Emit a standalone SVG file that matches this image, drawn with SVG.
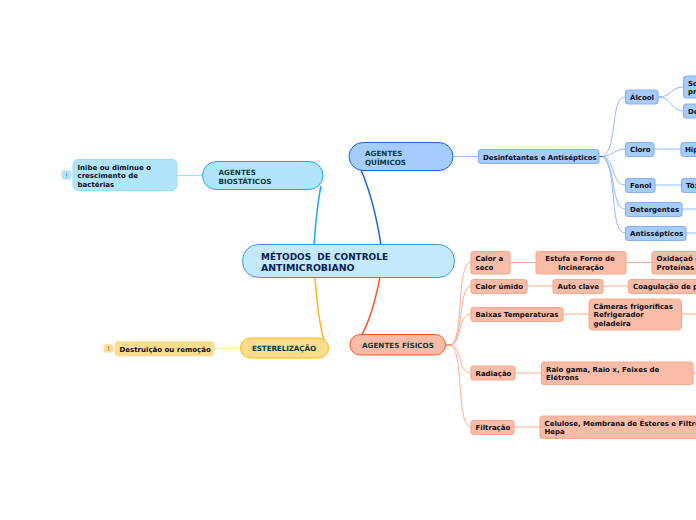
<svg xmlns="http://www.w3.org/2000/svg" width="696" height="520" viewBox="0 0 696 520">
<style>
text{font-family:"DejaVu Sans",Verdana,sans-serif;font-weight:700;font-size:7px;fill:#0c0c14}
.r{font-size:9.4px;fill:#0b2050;white-space:pre}
.m{font-size:7.2px;fill:#0a3a38}
.f{font-size:6.5px;font-weight:400;fill:#555}
.c{text-anchor:middle}
.b{fill:#a6cbfd;stroke:#85b4f5;stroke-width:1.2}
.o{fill:#fbbca7;stroke:#fba98e;stroke-width:1.2}
.cb{fill:none;stroke:#90bbf5;stroke-width:1}
.co{fill:none;stroke:#fcae95;stroke-width:1}
</style>
<g id="connectors" fill="none">
<path d="M321 186 Q317 205 314 245" stroke="#1ea7ee" stroke-width="1.500"/>
<path d="M361 170 Q374 200 381 245" stroke="#1a66dc" stroke-width="1.500"/>
<path d="M315 277 Q318 320 324.500 342" stroke="#fdb813" stroke-width="1.500"/>
<path d="M380 277 Q372 318 361 336" stroke="#f9572a" stroke-width="1.500"/>
<path d="M177 175.500H203" stroke="#9fdcf8" stroke-width="1"/>
<path d="M214 348.500Q230 349 241 348" stroke="#fde3a3" stroke-width="1"/>
<path d="M453 156.500H479" class="cb"/>
<path d="M445 345H451" stroke="#f9774f" stroke-width="1.500"/>
<path d="M599 156.500H603" stroke="#1a66dc" stroke-width="1"/>
<g class="cb">
<path d="M603 156.500C618 148 610 97 625 97"/>
<path d="M603 156.500C612 156 615 149 625 149"/>
<path d="M603 156.500C615 160 612 185 625 185"/>
<path d="M603 156.500C616 165 611 209 625 209"/>
<path d="M603 156.500C618 170 609 233 625 233"/>
<path d="M658 97C672 97 671 87 683 87"/>
<path d="M658 97C672 97 671 111 683 111"/>
<path d="M654 149H681"/>
<path d="M655 185H682"/>
<path d="M682 209H696"/>
<path d="M686 233H696"/>
</g>
<g class="co">
<path d="M451 345C464 340 456 262 471 262"/>
<path d="M451 345C464 340 458 286 471 286"/>
<path d="M451 345C462 342 458 314 471 314"/>
<path d="M451 345C462 348 458 373 471 373"/>
<path d="M451 345C464 352 456 427 471 427"/>
<path d="M510 262.500H536"/>
<path d="M626 262.500H652"/>
<path d="M527 286H553"/>
<path d="M603 286H629"/>
<path d="M563 314H589"/>
<path d="M681 314H696"/>
<path d="M515 373H542"/>
<path d="M693 373H696"/>
<path d="M514 427H540"/>
</g>
</g>
<g id="root"><rect x="242.500" y="244.500" width="212" height="33" rx="16" fill="#c3e9fd" stroke="#3d9ad8" stroke-width="1"/><text class="r" x="261" y="259.500" textLength="127" lengthAdjust="spacingAndGlyphs">MÉTODOS  DE CONTROLE</text><text class="r" x="261" y="270.500">ANTIMICROBIANO</text></g>
<g id="quimicos"><rect x="349" y="142.500" width="104" height="28" rx="14" fill="#a6cbfd" stroke="#1a66dc" stroke-width="1"/><text class="m" x="365" y="155.500">AGENTES</text><text class="m" x="365" y="164.500">QUÍMICOS</text></g>
<g id="biostaticos"><rect x="202.500" y="161.500" width="120.500" height="28" rx="14" fill="#b1e5fd" stroke="#1ea7ee" stroke-width="1"/><text class="m" x="218.500" y="174.500">AGENTES</text><text class="m" x="218.500" y="183.500">BIOSTÁTICOS</text></g>
<g id="esterelizacao"><rect x="240.500" y="338" width="88" height="20" rx="10" fill="#fedc8e" stroke="#fdb813" stroke-width="1"/><text class="m" x="252" y="351" textLength="64">ESTERELIZAÇÃO</text></g>
<g id="fisicos"><rect x="350" y="334.500" width="95.500" height="20.500" rx="10" fill="#fbbca7" stroke="#f9572a" stroke-width="1"/><text class="m" x="362" y="348">AGENTES FÍSICOS</text></g>
<g id="inibe"><rect x="73" y="159.500" width="104" height="31" rx="5" fill="#b1e5fd" stroke="#9fdcf8" stroke-width="1"/><text x="77.500" y="169.500">Inibe ou diminue o</text><text x="77.500" y="178">crescimento de</text><text x="77.500" y="186.500">bactérias</text></g>
<g id="flag1"><rect x="62" y="171" width="9" height="8" rx="2" fill="#b1e5fd" stroke="#9fdcf8" stroke-width=".8"/><text class="f c" x="66.500" y="177.500">!</text></g>
<g id="destruicao"><rect x="115" y="341.500" width="99" height="14.500" rx="3" fill="#fedc8e" stroke="#fde3a3" stroke-width="1"/><text x="119.500" y="351.500">Destruição ou remoção</text></g>
<g id="flag2"><rect x="104" y="344.500" width="9" height="8" rx="2" fill="#fedc8e" stroke="#fde3a3" stroke-width=".8"/><text class="f c" x="108.500" y="351">!</text></g>
<g id="desinfetantes"><rect class="b" x="478.500" y="149.500" width="120.500" height="14" rx="3"/><text x="483" y="159.500">Desinfetantes e Antisépticos</text></g>
<g id="alcool"><rect class="b" x="625.500" y="90" width="32.500" height="14" rx="3"/><text x="630" y="100">Álcool</text></g>
<g id="cloro"><rect class="b" x="625.500" y="142.500" width="28.500" height="14" rx="3"/><text x="630" y="152">Cloro</text></g>
<g id="fenol"><rect class="b" x="625.500" y="178.500" width="29.500" height="14" rx="3"/><text x="630" y="188">Fenol</text></g>
<g id="detergentes"><rect class="b" x="625.500" y="202.500" width="56.500" height="14" rx="3"/><text x="630" y="212">Detergentes</text></g>
<g id="antissepticos"><rect class="b" x="625.500" y="226.500" width="60.500" height="14" rx="3"/><text x="630" y="236">Antissépticos</text></g>
<g id="so"><rect class="b" x="683.500" y="76" width="20" height="22" rx="3"/><text x="688" y="86">So</text><text x="688" y="94">pr</text></g>
<g id="de"><rect class="b" x="683.500" y="104" width="20" height="14" rx="3"/><text x="688" y="114">De</text></g>
<g id="hip"><rect class="b" x="681" y="142.500" width="25" height="14" rx="3"/><text x="685" y="152">Hip</text></g>
<g id="tox"><rect class="b" x="681.500" y="178.500" width="25" height="14" rx="3"/><text x="686" y="188">Tóx</text></g>
<g id="calorseco"><rect class="o" x="471" y="251.500" width="39" height="22.500" rx="3"/><text x="475.500" y="261">Calor a</text><text x="475.500" y="270">seco</text></g>
<g id="estufa"><rect class="o" x="536" y="251.500" width="90" height="22.500" rx="3"/><text class="c" x="580" y="261">Estufa e Forno de</text><text class="c" x="581" y="270">Incineração</text></g>
<g id="oxidacao"><rect class="o" x="652" y="251.500" width="60" height="22.500" rx="3"/><text x="656.500" y="261">Oxidaçaõ d</text><text x="656.500" y="270">Proteínas</text></g>
<g id="calorumido"><rect class="o" x="471" y="279.500" width="56" height="14" rx="3"/><text x="475.500" y="289">Calor úmido</text></g>
<g id="autoclave"><rect class="o" x="553" y="279.500" width="50" height="14" rx="3"/><text x="557.500" y="289">Auto clave</text></g>
<g id="coagulacao"><rect class="o" x="628.500" y="279.500" width="80" height="14" rx="3"/><text x="633" y="289">Coagulação de p</text></g>
<g id="baixas"><rect class="o" x="471" y="307.500" width="92" height="14" rx="3"/><text x="475.500" y="317">Baixas Temperaturas</text></g>
<g id="camaras"><rect class="o" x="589" y="299" width="92.500" height="31" rx="4"/><text x="593.500" y="309">Câmeras frigoríficas</text><text x="593.500" y="317">Refrigerador</text><text x="593.500" y="326">geladeira</text></g>
<g id="radiacao"><rect class="o" x="471" y="366" width="44" height="14" rx="3"/><text x="475.500" y="376">Radiação</text></g>
<g id="raio"><rect class="o" x="541.500" y="362" width="151.500" height="22.500" rx="3"/><text x="546" y="372">Raio gama, Raio x, Feixes de</text><text x="546" y="380">Elétrons</text></g>
<g id="filtracao"><rect class="o" x="471" y="420.500" width="43" height="14" rx="3"/><text x="475.500" y="430">Filtração</text></g>
<g id="celulose"><rect class="o" x="540" y="416" width="170" height="22.500" rx="3"/><text x="544.500" y="426">Celulose, Membrana de Ésteres e Filtro</text><text x="544.500" y="434">Hepa</text></g>
</svg>
